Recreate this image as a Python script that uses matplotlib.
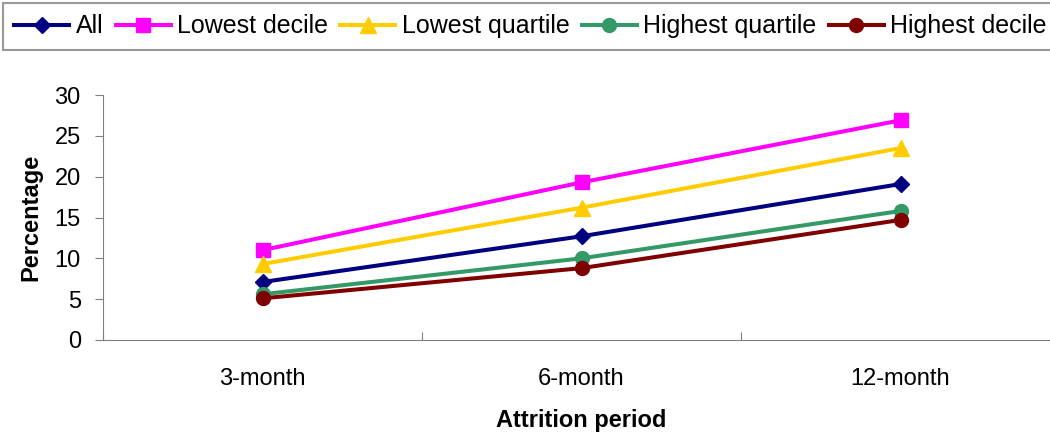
import matplotlib
matplotlib.use("Agg")
import matplotlib.pyplot as plt

plt.rcParams["font.family"] = ["Liberation Sans", "DejaVu Sans"]

periods = ["3-month", "6-month", "12-month"]
all_pct = [7.1, 12.7, 19.1]
lowest_decile = [11.0, 19.3, 26.9]
lowest_quartile = [9.3, 16.2, 23.5]
highest_quartile = [5.6, 10.0, 15.8]
highest_decile = [5.1, 8.8, 14.7]

fig = plt.figure(figsize=(10.5, 4.38), dpi=100)
# axis runs a little past the right edge, like the reference crop
ax = fig.add_axes([103 / 1050, 98 / 438, 957 / 1050, 245 / 438])

x = [0.5, 1.5, 2.5]
lw = 2.9
ax.plot(x, all_pct, color="#000080", marker="D", markersize=8, lw=lw, label="All")
ax.plot(x, lowest_decile, color="#FF00FF", marker="s", markersize=10, lw=lw, label="Lowest decile")
ax.plot(x, lowest_quartile, color="#FFCC00", marker="^", markersize=11, lw=lw, label="Lowest quartile")
ax.plot(x, highest_quartile, color="#339966", marker="o", markersize=10, lw=lw, label="Highest quartile")
ax.plot(x, highest_decile, color="#800000", marker="o", markersize=10, lw=lw, label="Highest decile")

ax.set_xlim(0, 3)
ax.set_ylim(0, 30)
ax.set_yticks(range(0, 31, 5))
ax.set_xticks([0, 1, 2, 3])
ax.set_xticklabels([])
ax.set_xticks(x, minor=True)
ax.set_xticklabels(periods, minor=True)
ax.tick_params(axis="x", which="minor", length=0, pad=20, labelsize=17)
ax.tick_params(axis="x", which="major", length=6, direction="in", color="#808080")
ax.tick_params(axis="y", length=6, direction="out", labelsize=17, pad=10, color="#808080")

for s in ["top", "right"]:
    ax.spines[s].set_visible(False)
ax.spines["left"].set_color("#808080")
ax.spines["bottom"].set_color("#808080")

ax.set_ylabel("Percentage", fontsize=17, fontweight="bold", labelpad=9)
ax.set_xlabel("Attrition period", fontsize=17, fontweight="bold", labelpad=14)

leg = fig.legend(loc="upper left", bbox_to_anchor=(3 / 1050, 1 - 3 / 438), ncol=5,
                 fontsize=18, frameon=True, fancybox=False, edgecolor="#808080",
                 handlelength=2.2, handletextpad=0.25, columnspacing=0.5,
                 borderpad=0.45, borderaxespad=0)
leg.get_frame().set_linewidth(1.5)

fig.savefig("out.png", dpi=100)
